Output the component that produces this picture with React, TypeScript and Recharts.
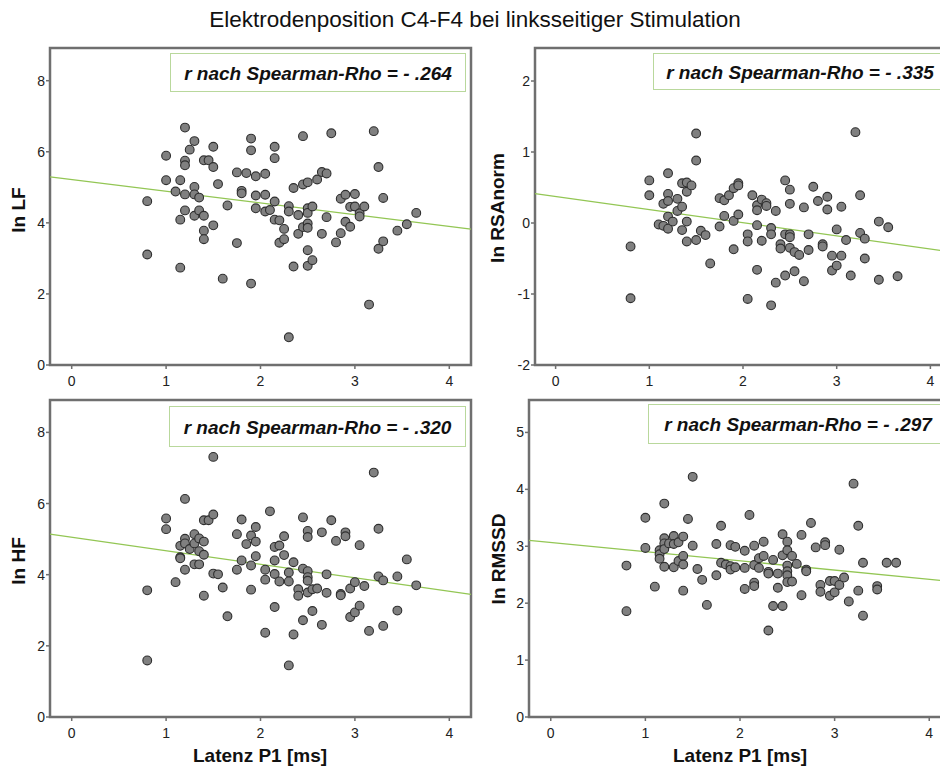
import React from 'react';
import { ScatterChart, Scatter, XAxis, YAxis, ReferenceArea, ReferenceLine } from 'recharts';

// ---------- data (Latenz P1 [ms], value) ----------
const lfPoints: [number, number][] = [
  [0.8,4.61],[0.8,3.11],[1.0,5.89],[1.0,5.20],[1.1,4.88],[1.15,5.20],[1.15,4.09],[1.15,2.74],[1.2,6.68],[1.2,5.75],
  [1.2,5.62],[1.2,4.80],[1.2,4.35],[1.25,6.06],[1.3,6.30],[1.3,5.01],[1.3,4.80],[1.3,4.20],[1.35,4.71],[1.35,4.35],
  [1.4,5.76],[1.45,5.76],[1.4,4.20],[1.4,3.78],[1.4,3.54],[1.5,6.14],[1.5,5.57],[1.5,3.93],[1.55,5.09],[1.6,2.43],
  [1.65,4.49],[1.75,5.42],[1.75,3.43],[1.8,4.90],[1.8,4.83],[1.85,5.40],[1.9,6.37],[1.9,6.04],[1.9,2.29],[1.95,5.31],
  [1.95,4.77],[1.95,4.41],[2.05,5.38],[2.05,4.79],[2.05,4.32],[2.1,4.36],[2.15,6.14],[2.15,5.82],[2.15,4.60],[2.15,4.09],
  [2.2,4.07],[2.2,3.44],[2.25,3.83],[2.25,3.54],[2.3,4.47],[2.3,4.32],[2.3,0.78],[2.35,4.98],[2.35,2.77],[2.4,4.22],
  [2.4,3.69],[2.45,6.44],[2.45,5.08],[2.45,3.88],[2.5,5.14],[2.5,4.41],[2.5,4.28],[2.5,3.98],[2.5,3.86],[2.5,3.23],
  [2.5,2.79],[2.55,4.46],[2.55,2.95],[2.6,5.22],[2.65,5.43],[2.65,3.69],[2.7,5.39],[2.7,4.16],[2.75,6.52],[2.8,3.45],
  [2.85,4.68],[2.85,3.71],[2.9,4.79],[2.9,4.03],[2.95,4.45],[2.95,3.89],[3.0,4.81],[3.0,4.46],[3.05,4.27],[3.05,4.18],
  [3.1,4.46],[3.15,1.70],[3.2,6.58],[3.25,5.57],[3.25,3.27],[3.3,4.70],[3.3,3.48],[3.45,3.78],[3.55,3.96],[3.65,4.28],
];

const rsaPoints: [number, number][] = [
  [0.8,-0.33],[0.8,-1.06],[1.0,0.60],[1.0,0.39],[1.1,-0.02],[1.15,0.27],[1.15,-0.04],[1.2,0.70],[1.2,0.41],[1.2,0.31],
  [1.2,0.09],[1.2,-0.08],[1.25,0.02],[1.3,0.34],[1.3,0.17],[1.35,0.56],[1.35,0.23],[1.35,-0.10],[1.4,0.57],[1.4,0.44],
  [1.4,0.02],[1.4,-0.26],[1.45,0.53],[1.5,1.26],[1.5,0.88],[1.5,-0.24],[1.55,-0.11],[1.6,-0.17],[1.65,-0.57],[1.75,0.35],
  [1.75,-0.05],[1.8,0.32],[1.8,0.10],[1.85,0.39],[1.9,0.49],[1.9,0.03],[1.9,-0.37],[1.95,0.56],[1.95,0.53],[1.95,0.12],
  [2.05,-0.16],[2.05,-0.26],[2.05,-1.07],[2.1,0.39],[2.15,0.25],[2.15,0.18],[2.15,-0.03],[2.15,-0.66],[2.2,0.33],[2.2,-0.25],
  [2.25,0.28],[2.25,0.24],[2.3,-0.07],[2.3,-0.16],[2.3,-1.16],[2.35,0.17],[2.35,-0.84],[2.4,-0.30],[2.4,-0.36],[2.45,0.60],
  [2.45,-0.16],[2.45,-0.74],[2.5,0.47],[2.5,0.27],[2.5,-0.16],[2.5,-0.20],[2.5,-0.35],[2.55,-0.41],[2.55,-0.68],[2.6,-0.45],
  [2.65,0.22],[2.65,-0.82],[2.7,-0.16],[2.7,-0.38],[2.75,0.51],[2.8,0.31],[2.85,-0.30],[2.85,-0.33],[2.9,0.37],[2.9,0.19],
  [2.95,-0.46],[2.95,-0.67],[3.0,-0.09],[3.0,-0.60],[3.05,0.23],[3.05,-0.46],[3.1,-0.24],[3.15,-0.74],[3.2,1.28],[3.25,0.39],
  [3.25,-0.14],[3.3,-0.22],[3.3,-0.50],[3.45,0.02],[3.45,-0.80],[3.55,-0.06],[3.65,-0.75],
];

const hfPoints: [number, number][] = [
  [0.8,3.56],[0.8,1.59],[1.0,5.58],[1.0,5.28],[1.1,3.79],[1.15,4.81],[1.15,4.49],[1.15,4.46],[1.2,6.13],[1.2,5.01],
  [1.2,4.88],[1.2,4.14],[1.25,4.72],[1.3,5.14],[1.3,4.88],[1.3,4.29],[1.35,5.02],[1.35,4.66],[1.35,4.29],[1.4,5.53],
  [1.4,4.93],[1.4,4.56],[1.4,3.41],[1.45,5.53],[1.5,7.31],[1.5,5.69],[1.5,4.03],[1.55,4.01],[1.6,3.64],[1.65,2.83],
  [1.75,5.14],[1.75,4.14],[1.8,5.55],[1.8,4.40],[1.85,4.86],[1.9,5.10],[1.9,4.26],[1.9,3.58],[1.95,5.34],[1.95,4.93],
  [1.95,4.52],[2.05,4.14],[2.05,3.86],[2.05,2.37],[2.1,5.78],[2.15,4.78],[2.15,4.40],[2.15,4.02],[2.15,3.09],[2.2,4.82],
  [2.2,3.81],[2.25,5.08],[2.25,4.55],[2.3,4.06],[2.3,3.81],[2.3,1.45],[2.35,4.35],[2.35,2.32],[2.4,3.59],[2.4,3.41],
  [2.45,5.61],[2.45,4.17],[2.45,2.72],[2.5,5.23],[2.5,5.06],[2.5,4.10],[2.5,3.93],[2.5,3.83],[2.5,3.50],[2.55,3.59],
  [2.55,2.98],[2.6,3.61],[2.65,5.19],[2.65,2.59],[2.7,4.01],[2.7,3.49],[2.75,5.53],[2.8,4.95],[2.85,3.46],[2.85,3.42],
  [2.9,5.19],[2.9,5.08],[2.95,3.61],[2.95,2.81],[3.0,3.79],[3.0,2.94],[3.05,4.83],[3.05,3.13],[3.1,3.68],[3.15,2.42],
  [3.2,6.87],[3.25,5.29],[3.25,3.95],[3.3,3.84],[3.3,2.56],[3.45,3.95],[3.45,2.99],[3.55,4.43],[3.65,3.70],
];

const rmssdPoints: [number, number][] = [
  [0.8,2.66],[0.8,1.86],[1.0,3.50],[1.0,2.97],[1.1,2.29],[1.15,2.93],[1.15,2.86],[1.15,2.78],[1.2,3.75],[1.2,3.14],
  [1.2,3.05],[1.2,2.95],[1.2,2.64],[1.25,3.05],[1.3,3.18],[1.3,3.04],[1.3,2.63],[1.35,3.07],[1.35,2.74],[1.4,3.17],
  [1.4,2.83],[1.4,2.68],[1.4,2.22],[1.45,3.48],[1.5,4.22],[1.5,3.01],[1.55,2.60],[1.6,2.41],[1.65,1.97],[1.75,3.04],
  [1.75,2.49],[1.8,3.36],[1.8,2.71],[1.85,2.68],[1.9,3.02],[1.9,2.65],[1.9,2.59],[1.95,2.99],[1.95,2.63],[2.05,2.92],
  [2.05,2.62],[2.05,2.25],[2.1,3.55],[2.15,3.01],[2.15,2.67],[2.15,2.36],[2.15,2.30],[2.2,2.79],[2.2,2.62],[2.25,3.08],
  [2.25,2.83],[2.3,2.55],[2.3,2.52],[2.3,1.52],[2.35,2.76],[2.35,1.95],[2.4,2.52],[2.4,2.27],[2.45,3.21],[2.45,2.84],
  [2.45,1.95],[2.5,3.08],[2.5,2.93],[2.5,2.66],[2.5,2.56],[2.5,2.49],[2.5,2.37],[2.55,2.83],[2.55,2.38],[2.6,2.69],
  [2.65,3.20],[2.65,2.14],[2.7,2.59],[2.7,2.56],[2.75,3.41],[2.8,2.98],[2.85,2.32],[2.85,2.20],[2.9,3.07],[2.9,3.02],
  [2.95,2.39],[2.95,2.13],[3.0,2.39],[3.0,2.19],[3.05,2.94],[3.05,2.32],[3.1,2.45],[3.15,2.03],[3.2,4.10],[3.25,3.36],
  [3.25,2.22],[3.3,2.71],[3.3,1.78],[3.45,2.30],[3.45,2.24],[3.55,2.71],[3.65,2.71],
];

// fit lines: [intercept, slope]
const lfFit = [5.22, -0.33];
const rsaFit = [0.374, -0.185];
const hfFit = [5.05, -0.379];
const rmssdFit = [3.068, -0.162];

const xTicks = [0, 1, 2, 3, 4];
const lfTicks = [0, 2, 4, 6, 8];
const rsaTicks = [-2, -1, 0, 1, 2];
const hfTicks = [0, 2, 4, 6, 8];
const rmssdTicks = [0, 1, 2, 3, 4, 5];

const titleText = 'Elektrodenposition C4-F4 bei linksseitiger Stimulation';
const xLabel = 'Latenz P1 [ms]';

const FONT = '"Liberation Sans", Arial, Helvetica, sans-serif';
const FRAME = '#6f6f6f';
const GREEN = '#93c654';

type PanelProps = {
  left: number; top: number; width: number; height: number;
  margin: { top: number; right: number; bottom: number; left: number };
  xDomain: [number, number]; yDomain: [number, number];
  yTicks: number[]; points: [number, number][]; fit: number[];
};

const Dot = (props: any) => {
  const { cx, cy } = props;
  if (cx == null || cy == null) return null;
  return <circle cx={cx} cy={cy} r={4.4} fill="#808080" stroke="#2e2e2e" strokeWidth={1.1} />;
};

function Panel({ left, top, width, height, margin, xDomain, yDomain, yTicks, points, fit }: PanelProps) {
  const data = points.map(([x, y]) => ({ x, y }));
  const seg = [
    { x: xDomain[0], y: fit[0] + fit[1] * xDomain[0] },
    { x: xDomain[1], y: fit[0] + fit[1] * xDomain[1] },
  ];
  return (
    <div style={{ position: 'absolute', left, top, width, height }}>
      <ScatterChart width={width} height={height} margin={margin}>
        <XAxis type="number" dataKey="x" domain={xDomain} ticks={xTicks} allowDataOverflow interval={0}
          axisLine={false} tickLine={{ stroke: FRAME, strokeWidth: 1.5 }} tickSize={4} tickMargin={7}
          tick={{ fill: '#222', fontSize: 14, fontFamily: FONT }} height={25} />
        <YAxis type="number" dataKey="y" domain={yDomain} ticks={yTicks} allowDataOverflow interval={0}
          axisLine={false} tickLine={{ stroke: FRAME, strokeWidth: 1.5 }} tickSize={4} tickMargin={1}
          tick={{ fill: '#222', fontSize: 14, fontFamily: FONT }} width={40} />
        <ReferenceArea x1={xDomain[0]} x2={xDomain[1]} y1={yDomain[0]} y2={yDomain[1]}
          fill="none" fillOpacity={0} stroke={FRAME} strokeWidth={2.5} ifOverflow="visible" />
        <ReferenceLine segment={seg} stroke={GREEN} strokeWidth={1.3} ifOverflow="visible" />
        <Scatter data={data} shape={Dot} isAnimationActive={false} />
      </ScatterChart>
    </div>
  );
}

const boxStyle = (left: number, top: number, width: number, height: number): React.CSSProperties => ({
  position: 'absolute', left, top, width, height, boxSizing: 'border-box',
  border: '1.5px solid #b9d89c', background: '#fff', display: 'flex', alignItems: 'center',
  justifyContent: 'center', fontFamily: FONT, fontWeight: 'bold', fontStyle: 'italic', fontSize: 19,
  color: '#111', paddingTop: 2, whiteSpace: 'nowrap',
});

const yLabelStyle = (cx: number, cy: number): React.CSSProperties => ({
  position: 'absolute', left: cx - 100, top: cy - 12, width: 200, height: 24, lineHeight: '24px',
  textAlign: 'center', transform: 'rotate(-90deg)', fontFamily: FONT, fontWeight: 'bold', fontSize: 19,
  color: '#111', whiteSpace: 'nowrap',
});

const xLabelStyle = (cx: number, cy: number): React.CSSProperties => ({
  position: 'absolute', left: cx - 100, top: cy - 12, width: 200, height: 24, lineHeight: '24px',
  textAlign: 'center', fontFamily: FONT, fontWeight: 'bold', fontSize: 19, color: '#111', whiteSpace: 'nowrap',
});

export default function App() {
  return (
    <div style={{ position: 'absolute', left: 0, top: 0, width: 940, height: 767, overflow: 'hidden', background: '#fff', fontFamily: FONT }}>
      <div style={{ position: 'absolute', left: 0, top: 6, width: 950, textAlign: 'center', fontSize: 22.5, lineHeight: '28px', color: '#111', fontFamily: FONT }}>
        {titleText}
      </div>

      <Panel left={0} top={0} width={480} height={395}
        margin={{ top: 48, right: 9, bottom: 5, left: 10 }}
        xDomain={[-0.23, 4.23]} yDomain={[0, 8.92]} yTicks={lfTicks} points={lfPoints} fit={lfFit} />
      <Panel left={480} top={0} width={480} height={395}
        margin={{ top: 48, right: 9, bottom: 5, left: 15 }}
        xDomain={[-0.22, 4.22]} yDomain={[-2, 2.465]} yTicks={rsaTicks} points={rsaPoints} fit={rsaFit} />
      <Panel left={0} top={360} width={480} height={407}
        margin={{ top: 40, right: 9, bottom: 25, left: 10 }}
        xDomain={[-0.23, 4.23]} yDomain={[0, 8.91]} yTicks={hfTicks} points={hfPoints} fit={hfFit} />
      <Panel left={480} top={360} width={480} height={407}
        margin={{ top: 40, right: 9, bottom: 25, left: 9 }}
        xDomain={[-0.23, 4.23]} yDomain={[0, 5.57]} yTicks={rmssdTicks} points={rmssdPoints} fit={rmssdFit} />

      <div style={boxStyle(170, 53, 296, 39)}>r nach Spearman-Rho = - .264</div>
      <div style={boxStyle(653, 53, 294, 37)}>r nach Spearman-Rho = - .335</div>
      <div style={boxStyle(169, 406, 297, 41)}>r nach Spearman-Rho = - .320</div>
      <div style={boxStyle(648, 404, 300, 40)}>r nach Spearman-Rho = - .297</div>

      <div style={yLabelStyle(19, 210)}>ln LF</div>
      <div style={yLabelStyle(498, 208)}>ln RSAnorm</div>
      <div style={yLabelStyle(19, 561)}>ln HF</div>
      <div style={yLabelStyle(499, 559)}>ln RMSSD</div>

      <div style={xLabelStyle(260, 756)}>{xLabel}</div>
      <div style={xLabelStyle(740, 756)}>{xLabel}</div>
    </div>
  );
}
